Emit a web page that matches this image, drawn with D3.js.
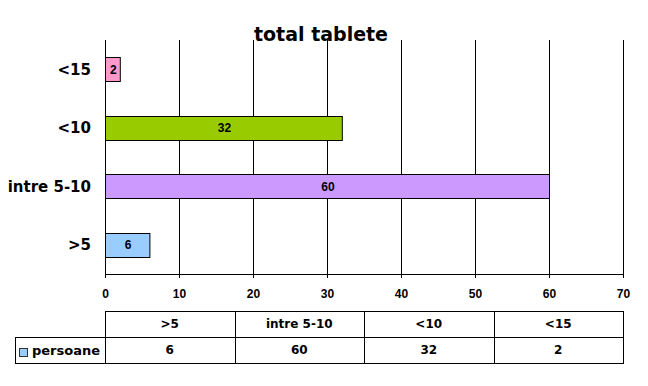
<!DOCTYPE html>
<html lang="ro">
<head>
<meta charset="UTF-8">
<title>total tablete</title>
<script src="https://cdn.jsdelivr.net/npm/d3@7"></script>
<style>
    body { margin: 0; background: #fff; }
    svg { display: block; font-family: "DejaVu Sans", Verdana, sans-serif; }
    .axis path, .axis line { stroke: #000; shape-rendering: crispEdges; }
    .axis text { font-family: "Liberation Sans", Arial, sans-serif; font-size: 12px; font-weight: bold; }
    .grid line { stroke: #000; shape-rendering: crispEdges; }
</style>
</head>
<body>
<svg width="648" height="386"></svg>
<script>
    var categories = [">5", "intre 5-10", "<10", "<15"];
    var values = [6, 60, 32, 2];
    var barColors = ["#99ccff", "#cc99ff", "#99cc00", "#ff99cc"];
    var xTicks = [0, 10, 20, 30, 40, 50, 60, 70];
    var seriesName = "persoane";

    var svg = d3.select("svg");
    var plotL = 105, plotR = 623, plotT = 40, plotB = 274;
    var barH = 24;

    var x = d3.scaleLinear().domain([0, 70]).range([plotL, plotR]);
    // categories drawn bottom-up
    var y = d3.scaleBand().domain(categories.slice().reverse()).range([plotT, plotB]);

    // vertical gridlines
    svg.append("g").attr("class", "grid")
        .selectAll("line").data(xTicks.slice(1)).enter().append("line")
        .attr("x1", function (d) { return Math.round(x(d)) + 0.5; })
        .attr("x2", function (d) { return Math.round(x(d)) + 0.5; })
        .attr("y1", plotT).attr("y2", plotB);

    // title
    svg.append("text")
        .attr("x", 321).attr("y", 41)
        .attr("text-anchor", "middle")
        .style("font-size", "19px").style("font-weight", "bold")
        .text("total tablete");

    // x axis
    var axisX = d3.axisBottom(x).tickValues(xTicks).tickSize(4).tickPadding(11);
    svg.append("g").attr("class", "axis")
        .attr("transform", "translate(0," + plotB + ")")
        .call(axisX)
        .call(function (g) { g.select(".domain").attr("d", "M" + plotL + ",0.5H" + plotR); });

    // left axis line
    svg.append("line")
        .attr("x1", plotL + 0.5).attr("x2", plotL + 0.5)
        .attr("y1", plotT).attr("y2", plotB)
        .attr("stroke", "#000").style("shape-rendering", "crispEdges");

    // category labels
    svg.append("g").selectAll("text").data(categories).enter().append("text")
        .attr("x", 91)
        .attr("y", function (d) { return y(d) + y.bandwidth() / 2; })
        .attr("dy", "0.36em")
        .attr("text-anchor", "end")
        .style("font-size", "15px").style("font-weight", "bold")
        .text(function (d) { return d; });

    // bars
    var bars = svg.append("g").selectAll("g").data(categories).enter().append("g");
    bars.append("rect")
        .attr("x", x(0) + 0.5)
        .attr("y", function (d) { return Math.round(y(d) + (y.bandwidth() - barH) / 2) + 0.5; })
        .attr("width", function (d, i) { return x(values[i]) - x(0); })
        .attr("height", barH)
        .attr("fill", function (d, i) { return barColors[i]; })
        .attr("stroke", "#000");
    bars.append("text")
        .attr("x", function (d, i) { return (x(0) + x(values[i])) / 2 + 1; })
        .attr("y", function (d) { return y(d) + y.bandwidth() / 2; })
        .attr("dy", "0.36em")
        .attr("text-anchor", "middle")
        .style("font-family", "'Liberation Sans', Arial, sans-serif")
        .style("font-size", "12px").style("font-weight", "bold")
        .text(function (d, i) { return values[i]; });

    // data table
    var col = d3.scaleBand().domain(categories).range([plotL, plotR]);
    var rowTop = 311, rowH = 26;
    var table = svg.append("g").attr("stroke", "#000").attr("fill", "none")
        .style("shape-rendering", "crispEdges");
    table.append("rect").attr("x", plotL + 0.5).attr("y", rowTop + 0.5)
        .attr("width", plotR - plotL).attr("height", rowH * 2);
    table.append("rect").attr("x", 15.5).attr("y", rowTop + rowH + 0.5)
        .attr("width", plotL - 15).attr("height", rowH);
    table.append("line").attr("x1", plotL).attr("x2", plotR)
        .attr("y1", rowTop + rowH + 0.5).attr("y2", rowTop + rowH + 0.5);
    table.selectAll(".sep").data(categories.slice(1)).enter().append("line")
        .attr("x1", function (d) { return Math.round(col(d)) + 0.5; })
        .attr("x2", function (d) { return Math.round(col(d)) + 0.5; })
        .attr("y1", rowTop).attr("y2", rowTop + rowH * 2);

    var cells = svg.append("g").style("font-size", "12px").style("font-weight", "bold")
        .attr("text-anchor", "middle");
    cells.selectAll(".hd").data(categories).enter().append("text")
        .attr("x", function (d) { return col(d) + col.bandwidth() / 2; })
        .attr("y", rowTop + rowH / 2).attr("dy", "0.36em")
        .text(function (d) { return d; });
    cells.selectAll(".vl").data(categories).enter().append("text")
        .attr("x", function (d) { return col(d) + col.bandwidth() / 2; })
        .attr("y", rowTop + rowH * 1.5).attr("dy", "0.36em")
        .text(function (d, i) { return values[i]; });

    // legend key in table
    svg.append("rect").attr("x", 19.5).attr("y", rowTop + rowH + 11.5)
        .attr("width", 8).attr("height", 8)
        .attr("fill", barColors[0]).attr("stroke", "#333");
    svg.append("text").attr("x", 32).attr("y", rowTop + rowH * 1.5).attr("dy", "0.36em")
        .style("font-size", "13px").style("font-weight", "bold")
        .text(seriesName);
</script>
</body>
</html>
